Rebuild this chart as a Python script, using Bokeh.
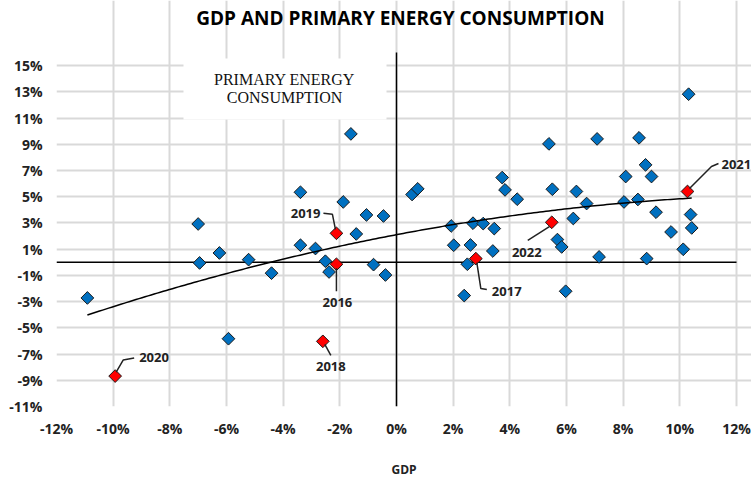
import numpy as np
from bokeh.plotting import figure
from bokeh.models import FixedTicker, Label
from bokeh.embed import file_html
from bokeh.resources import INLINE

# ---------------- data ----------------
chart_title = "GDP AND PRIMARY ENERGY CONSUMPTION"
x_title = "GDP"
box_lines = ["PRIMARY ENERGY", "CONSUMPTION"]

x_ticks = [-12, -10, -8, -6, -4, -2, 0, 2, 4, 6, 8, 10, 12]
x_tick_labels = ["-12%", "-10%", "-8%", "-6%", "-4%", "-2%", "0%", "2%", "4%", "6%", "8%", "10%", "12%"]
y_ticks = [-11, -9, -7, -5, -3, -1, 1, 3, 5, 7, 9, 11, 13, 15]
y_tick_labels = ["-11%", "-9%", "-7%", "-5%", "-3%", "-1%", "1%", "3%", "5%", "7%", "9%", "11%", "13%", "15%"]

blue_gdp = [-10.91, -7.00, -6.95, -6.25, -5.22, -5.93, -4.41, -3.39, -3.39, -2.86,
            -2.51, -2.38, -1.88, -1.61, -1.42, -1.06, -0.81, -0.46, -0.39, 0.55,
            0.75, 1.93, 2.02, 2.39, 2.50, 2.61, 2.70, 3.06, 3.40, 3.45,
            3.73, 3.83, 4.26, 5.38, 5.50, 5.68, 5.83, 5.97, 6.24, 6.35,
            6.71, 7.08, 7.15, 8.03, 8.09, 8.52, 8.56, 8.79, 8.83, 9.00,
            9.16, 9.69, 10.12, 10.31, 10.38, 10.42]
blue_energy = [-2.72, 2.92, -0.05, 0.71, 0.20, -5.83, -0.83, 5.34, 1.30, 1.05,
               0.08, -0.74, 4.60, 9.79, 2.16, 3.61, -0.18, 3.53, -0.97, 5.17,
               5.60, 2.77, 1.30, -2.54, -0.15, 1.32, 2.98, 2.95, 0.86, 2.57,
               6.46, 5.52, 4.81, 9.03, 5.57, 1.73, 1.17, -2.21, 3.34, 5.40,
               4.48, 9.41, 0.41, 4.60, 6.54, 4.79, 9.49, 7.43, 0.28, 6.54,
               3.82, 2.31, 0.99, 12.82, 3.64, 2.62]

red_years = ["2016", "2017", "2018", "2019", "2020", "2021", "2022"]
red_gdp = [-2.12, 2.80, -2.60, -2.12, -9.93, 10.27, 5.48]
red_energy = [-0.15, 0.28, -6.03, 2.21, -8.68, 5.40, 3.05]

# ---------------- geometry / style ----------------
W, H = 751, 481
BL, BB = 56, 75                 # left / bottom borders (px)
PLOT_W, PLOT_H = 680, 354       # size of the gridded plot area (px)
XMIN, XMAX = -12, 12
YMIN, YMAX = -11, 16
UX = (XMAX - XMIN) / PLOT_W     # data units per px
UY = (YMAX - YMIN) / PLOT_H
FW = W - BL                     # frame extends to the right edge
FH = H - BB                     # frame extends to the top edge
X_END = XMIN + FW * UX
Y_END = YMIN + FH * UY


def dx(px):
    return px * UX


def dy(px):  # screen px downward -> data
    return -px * UY


# callout offsets in screen px relative to marker (y downward)
callouts = {
    "2016": dict(leader=[(0, 4), (0, 27)], text=(1, 38), align="center"),
    "2017": dict(leader=[(1, 4), (5, 30), (11, 31)], text=(16, 32.5), align="left"),
    "2018": dict(leader=[(2, 3), (8, 14)], text=(8, 25), align="center"),
    "2019": dict(leader=[(-13, -20), (-4, -19), (-1, -4)], text=(-16, -19.5), align="right"),
    "2020": dict(leader=[(1, -4), (8, -16), (19, -18)], text=(24, -18.5), align="left"),
    "2021": dict(leader=[(2, -3), (24, -25), (31, -28)], text=(34, -27), align="left"),
    "2022": dict(leader=[(-2, 4), (-24, 18)], text=(-25, 30), align="center"),
}

FONT = "Open Sans"
TXT = "#222222"

p = figure(width=W, height=H, x_range=(XMIN, X_END), y_range=(YMIN, Y_END),
           output_backend="svg", toolbar_location=None,
           min_border_left=BL, min_border_right=0, min_border_top=0, min_border_bottom=BB)
p.outline_line_color = None
p.background_fill_color = "white"
p.border_fill_color = "white"

for ax, ticks, labels in ((p.xaxis[0], x_ticks, x_tick_labels), (p.yaxis[0], y_ticks, y_tick_labels)):
    ax.ticker = FixedTicker(ticks=ticks)
    ax.major_label_overrides = {t: l for t, l in zip(ticks, labels)}
    ax.axis_line_color = None
    ax.major_tick_line_color = None
    ax.minor_tick_line_color = None
    ax.major_tick_out = 0
    ax.major_tick_in = 0
    ax.major_label_text_font = FONT
    ax.major_label_text_font_style = "bold"
    ax.major_label_text_font_size = "14px"
    ax.major_label_text_color = TXT
p.xaxis.major_label_standoff = 12
p.yaxis.major_label_standoff = 14
p.xaxis.axis_label = x_title
p.xaxis.axis_label_text_font = FONT
p.xaxis.axis_label_text_font_style = "bold"
p.xaxis.axis_label_text_font_size = "12px"
p.xaxis.axis_label_text_color = TXT
p.xaxis.axis_label_standoff = 20

p.xgrid.ticker = FixedTicker(ticks=x_ticks)
p.ygrid.ticker = FixedTicker(ticks=y_ticks)
p.xgrid.bounds = (YMIN, YMAX)
p.ygrid.bounds = (XMIN, XMAX)
for g in (p.xgrid[0], p.ygrid[0]):
    g.grid_line_color = "#d9d9d9"
    g.grid_line_width = 2

# zero lines across the plot area
p.segment(x0=[0, XMIN], y0=[YMIN, 0], x1=[0, XMAX], y1=[YMAX, 0], line_color="black", line_width=1.5)

# white text box (covers grid)
p.quad(left=XMIN + dx(127), right=XMIN + dx(330), top=YMAX + dy(6), bottom=YMAX + dy(67),
       fill_color="white", line_color=None)
for i, line in enumerate(box_lines):
    p.add_layout(Label(x=XMIN + dx(228), y=YMAX + dy(27 + i * 17.5), text=line,
                       text_align="center", text_baseline="middle",
                       text_font="Liberation Serif", text_font_size="16px", text_color="#111111"))

# points
p.scatter(blue_gdp, blue_energy, marker="square", size=9, angle=np.pi / 4,
          fill_color="#0070C0", line_color="#1a1a1a", line_width=1)
p.scatter(red_gdp, red_energy, marker="square", size=9, angle=np.pi / 4,
          fill_color="#FF0000", line_color="#1a1a1a", line_width=1)

# polynomial trendline (order 2) fitted to all points
all_x = np.array(blue_gdp + red_gdp)
all_y = np.array(blue_energy + red_energy)
coef = np.polyfit(all_x, all_y, 2)
tx = np.linspace(all_x.min(), all_x.max(), 200)
p.line(tx, np.polyval(coef, tx), line_color="black", line_width=1.5)

# callouts
xs, ys = [], []
for yr, gx, ge in zip(red_years, red_gdp, red_energy):
    c = callouts[yr]
    xs.append([gx + dx(a) for a, b in c["leader"]])
    ys.append([ge + dy(b) for a, b in c["leader"]])
    tx_, ty_ = c["text"]
    p.add_layout(Label(x=gx + dx(tx_), y=ge + dy(ty_), text=yr, text_align=c["align"],
                       text_baseline="middle", text_font=FONT, text_font_style="bold",
                       text_font_size="13px", text_color=TXT))
p.multi_line(xs, ys, line_color="#222222", line_width=1.5)

# chart title
p.add_layout(Label(x=XMIN + dx(344), y=YMAX + dy(-35), text=chart_title, text_align="center",
                   text_baseline="middle", text_font=FONT, text_font_style="bold",
                   text_font_size="19px", text_color="black"))

open("out.html", "w").write(file_html(p, INLINE))
